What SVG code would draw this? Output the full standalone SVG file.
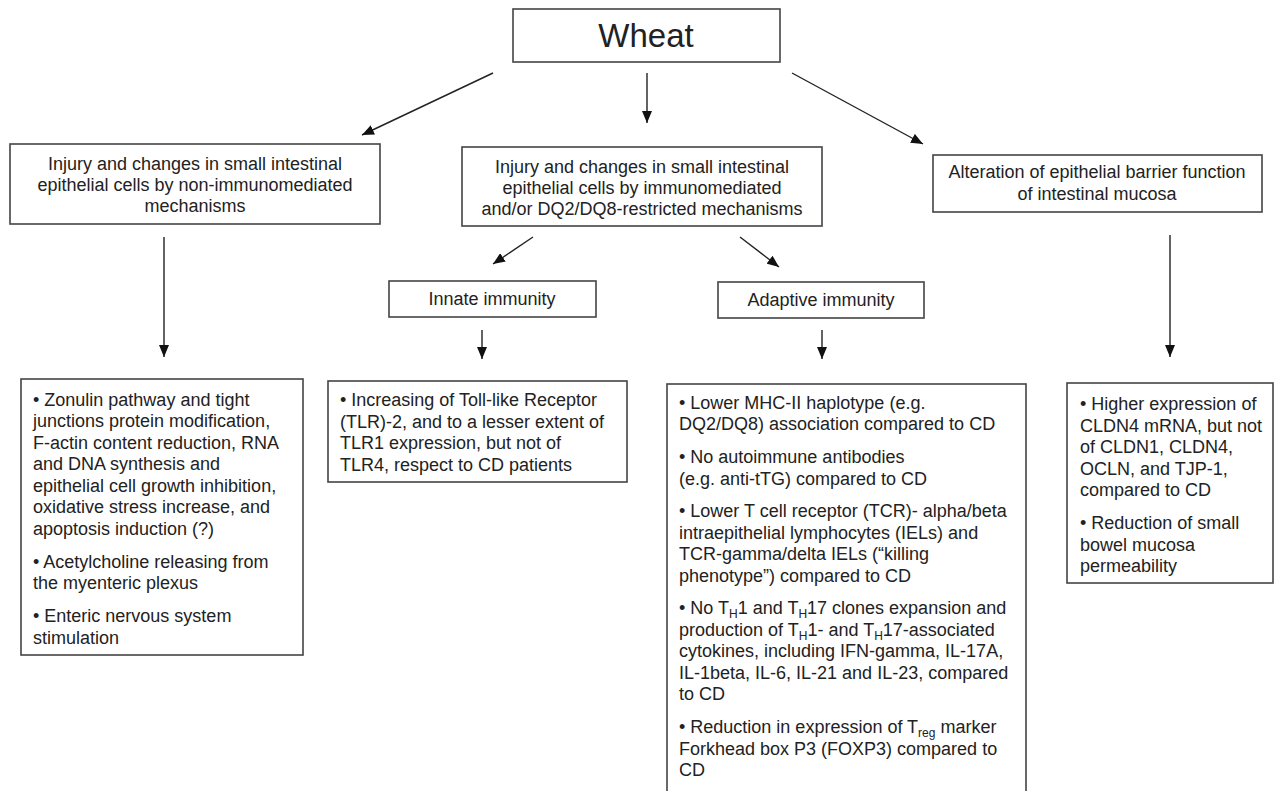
<svg xmlns="http://www.w3.org/2000/svg" width="1281" height="791" viewBox="0 0 1281 791">
<defs>
<marker id="ah" markerUnits="userSpaceOnUse" markerWidth="12" markerHeight="10" refX="12" refY="5" orient="auto">
<path d="M0,0 L12,5 L0,10 z" fill="#111"/>
</marker>
<style>
.box{fill:#fff;stroke:#444;stroke-width:1.6}
.t{font-family:"Liberation Sans",Arial,sans-serif;font-size:18px;fill:#222}
.t tspan{fill:#222}
.c{text-anchor:middle}
.con{stroke:#222;stroke-width:1.4;fill:none;marker-end:url(#ah)}
</style>
</defs>
<rect width="1281" height="791" fill="#fff"/>

<g id="connectors">
<line class="con" x1="647" y1="73" x2="647" y2="123"/>
<line class="con" x1="493" y1="73" x2="362" y2="135"/>
<line class="con" x1="792" y1="73" x2="923" y2="144"/>
<line class="con" x1="164" y1="237" x2="164" y2="357"/>
<line class="con" x1="533" y1="237" x2="493" y2="264"/>
<line class="con" x1="740" y1="237" x2="779" y2="267"/>
<line class="con" x1="482" y1="330" x2="482" y2="359"/>
<line class="con" x1="822" y1="330" x2="822" y2="359"/>
<line class="con" x1="1170" y1="235" x2="1170" y2="357"/>
</g>

<g id="wheat">
<rect class="box" x="513" y="9" width="267" height="53"/>
<text class="t c" x="646" y="47" style="font-size:33px">Wheat</text>
</g>

<g id="non-immuno">
<rect class="box" x="10" y="144" width="370" height="80"/>
<text class="t c" x="195" y="170">Injury and changes in small intestinal</text>
<text class="t c" x="195" y="191">epithelial cells by non-immunomediated</text>
<text class="t c" x="195" y="212">mechanisms</text>
</g>

<g id="immuno">
<rect class="box" x="462" y="147" width="360" height="79"/>
<text class="t c" x="642" y="173">Injury and changes in small intestinal</text>
<text class="t c" x="642" y="194">epithelial cells by immunomediated</text>
<text class="t c" x="642" y="215">and/or DQ2/DQ8-restricted mechanisms</text>
</g>

<g id="barrier">
<rect class="box" x="933" y="155" width="329" height="57"/>
<text class="t c" x="1097" y="178">Alteration of epithelial barrier function</text>
<text class="t c" x="1097" y="200">of intestinal mucosa</text>
</g>

<g id="innate">
<rect class="box" x="389" y="281" width="207" height="36"/>
<text class="t c" x="492" y="305">Innate immunity</text>
</g>

<g id="adaptive">
<rect class="box" x="718" y="282" width="206" height="36"/>
<text class="t c" x="821" y="306">Adaptive immunity</text>
</g>

<g id="non-immuno-effects">
<rect class="box" x="21" y="379" width="282" height="276"/>
<text class="t" x="33" y="405.5">• Zonulin pathway and tight</text>
<text class="t" x="33" y="427">junctions protein modification,</text>
<text class="t" x="33" y="448.5">F-actin content reduction, RNA</text>
<text class="t" x="33" y="470">and DNA synthesis and</text>
<text class="t" x="33" y="491.5">epithelial cell growth inhibition,</text>
<text class="t" x="33" y="513">oxidative stress increase, and</text>
<text class="t" x="33" y="534.5">apoptosis induction (?)</text>
<text class="t" x="33" y="567.5">• Acetylcholine releasing from</text>
<text class="t" x="33" y="589">the myenteric plexus</text>
<text class="t" x="33" y="622">• Enteric nervous system</text>
<text class="t" x="33" y="643.5">stimulation</text>
</g>

<g id="innate-effects">
<rect class="box" x="328" y="381" width="299" height="101"/>
<text class="t" x="340" y="406">• Increasing of Toll-like Receptor</text>
<text class="t" x="340" y="427.5">(TLR)-2, and to a lesser extent of</text>
<text class="t" x="340" y="449">TLR1 expression, but not of</text>
<text class="t" x="340" y="470.5">TLR4, respect to CD patients</text>
</g>

<g id="adaptive-effects">
<rect class="box" x="667" y="384" width="359" height="420"/>
<text class="t" x="679" y="408.5">• Lower MHC-II haplotype (e.g.</text>
<text class="t" x="679" y="430">DQ2/DQ8) association compared to CD</text>
<text class="t" x="679" y="463">• No autoimmune antibodies</text>
<text class="t" x="679" y="484.5">(e.g. anti-tTG) compared to CD</text>
<text class="t" x="679" y="517">• Lower T cell receptor (TCR)- alpha/beta</text>
<text class="t" x="679" y="538.5">intraepithelial lymphocytes (IELs) and</text>
<text class="t" x="679" y="560">TCR-gamma/delta IELs (“killing</text>
<text class="t" x="679" y="581.5">phenotype”) compared to CD</text>
<text class="t" x="679" y="614">• No T<tspan dy="4" font-size="12">H</tspan><tspan dy="-4">1 and T</tspan><tspan dy="4" font-size="12">H</tspan><tspan dy="-4">17 clones expansion and</tspan></text>
<text class="t" x="679" y="635.5">production of T<tspan dy="4" font-size="12">H</tspan><tspan dy="-4">1- and T</tspan><tspan dy="4" font-size="12">H</tspan><tspan dy="-4">17-associated</tspan></text>
<text class="t" x="679" y="657">cytokines, including IFN-gamma, IL-17A,</text>
<text class="t" x="679" y="678.5">IL-1beta, IL-6, IL-21 and IL-23, compared</text>
<text class="t" x="679" y="700">to CD</text>
<text class="t" x="679" y="733">• Reduction in expression of T<tspan dy="4" font-size="12">reg</tspan><tspan dy="-4"> marker</tspan></text>
<text class="t" x="679" y="754.5">Forkhead box P3 (FOXP3) compared to</text>
<text class="t" x="679" y="776">CD</text>
</g>

<g id="barrier-effects">
<rect class="box" x="1067" y="383" width="206" height="200"/>
<text class="t" x="1080" y="410">• Higher expression of</text>
<text class="t" x="1080" y="431.5">CLDN4 mRNA, but not</text>
<text class="t" x="1080" y="453">of CLDN1, CLDN4,</text>
<text class="t" x="1080" y="474.5">OCLN, and TJP-1,</text>
<text class="t" x="1080" y="496">compared to CD</text>
<text class="t" x="1080" y="529">• Reduction of small</text>
<text class="t" x="1080" y="550.5">bowel mucosa</text>
<text class="t" x="1080" y="572">permeability</text>
</g>
</svg>
